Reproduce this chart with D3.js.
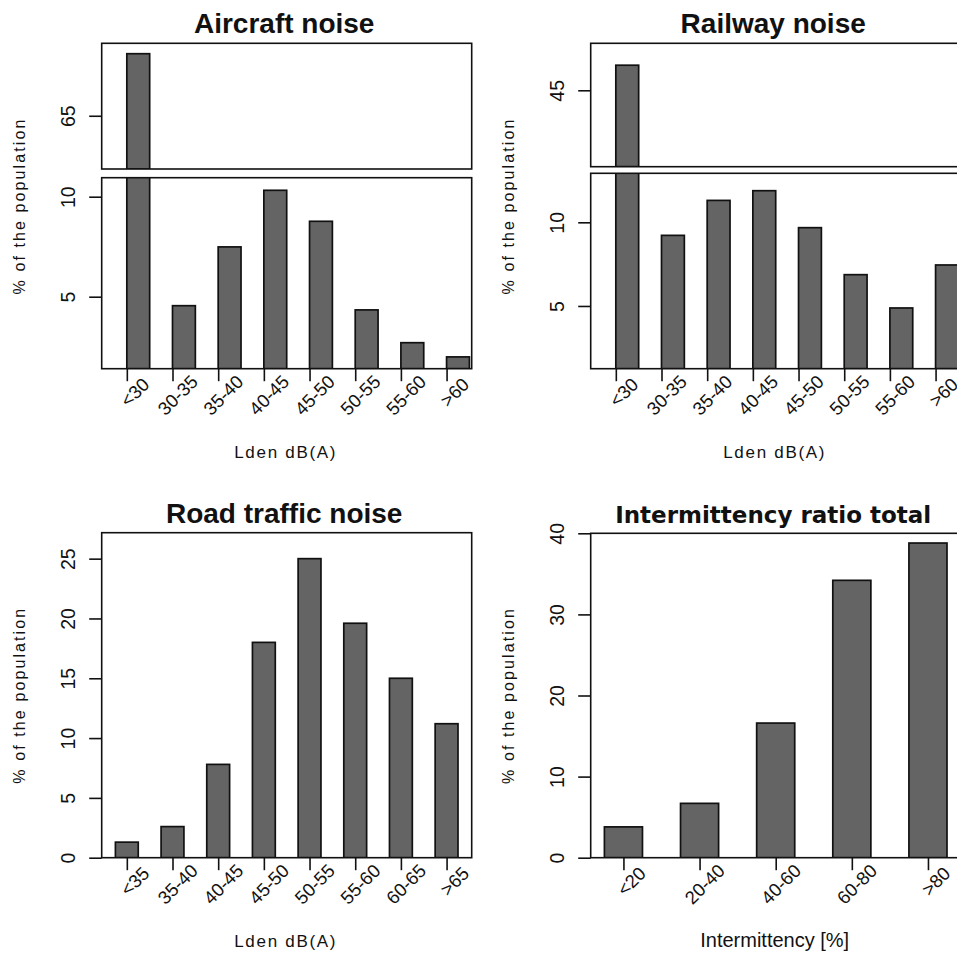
<!DOCTYPE html>
<meta charset="utf-8">
<script src="https://d3js.org/d3.v7.min.js"></script>
<style>
body { margin:0; background:#fff; }
svg { display:block; }
text { font-family:"Liberation Sans", Arial, sans-serif; fill:#111; }
.box { fill:none; stroke:#111; stroke-width:1.6; }
.bar { fill:#646464; stroke:#111; stroke-width:1.7; }
.tick line { stroke:#111; stroke-width:1.6; }
.ytick text { font-size:19.5px; }
.xtick text { font-size:18.5px; }
.title { font-size:28px; font-weight:bold; }
.title.alt { font-family:"DejaVu Sans", sans-serif; font-size:23px; }
.xlab { font-size:17px; letter-spacing:1.7px; }
.xlab.alt { font-size:20px; letter-spacing:0; }
.ylab { font-size:16px; letter-spacing:2.1px; }
</style>
<body></body>
<script>

// ---- data ----
var noiseBands = ["<30", "30-35", "35-40", "40-45", "45-50", "50-55", "55-60", ">60"];
var aircraftValues = [68.1, 4.55, 7.49, 10.32, 8.77, 4.34, 2.70, 1.99];
var railwayValues = [46.5, 9.22, 11.31, 11.89, 9.68, 6.87, 4.88, 7.45];

var roadBands = ["<35", "35-40", "40-45", "45-50", "50-55", "55-60", "60-65", ">65"];
var roadValues = [1.3, 2.6, 7.8, 18.0, 25.0, 19.6, 15.0, 11.2];

var intermBands = ["<20", "20-40", "40-60", "60-80", ">80"];
var intermValues = [3.8, 6.7, 16.6, 34.2, 38.8];

var aircraftTicksHigh = [65], aircraftTicksLow = [5, 10];
var railwayTicksHigh = [45], railwayTicksLow = [5, 10];
var roadTicks = [0, 5, 10, 15, 20, 25];
var intermTicks = [0, 10, 20, 30, 40];

// ---- layout ----
var width = 957, height = 956;
var boxW = 370;
var ylabel = "% of the population";

var svg = d3.select("body").append("svg")
    .attr("width", width)
    .attr("height", height);

var panels = [
  {title: "Aircraft noise", left: 101.7, titleY: 33.3, cats: noiseBands, vals: aircraftValues,
   xDomain: [0.4, 16.6], shift: 0.5, xlab: "Lden dB(A)",
   parts: [
     {top: 43.3, bottom: 169, domain: [62.34, 68.62], ticks: aircraftTicksHigh},
     {top: 177.7, bottom: 368.7, domain: [1.4, 10.95], ticks: aircraftTicksLow}
   ]},
  {title: "Railway noise", left: 590.7, titleY: 33.3, cats: noiseBands, vals: railwayValues,
   xDomain: [0.4, 16.6], shift: 0.5, xlab: "Lden dB(A)",
   parts: [
     {top: 43.3, bottom: 166.7, domain: [40.43, 47.81], ticks: railwayTicksHigh},
     {top: 173.3, bottom: 368.7, domain: [1.25, 12.93], ticks: railwayTicksLow}
   ]},
  {title: "Road traffic noise", left: 101.7, titleY: 522.7, cats: roadBands, vals: roadValues,
   xDomain: [0.4, 16.6], shift: 0, xlab: "Lden dB(A)",
   parts: [
     {top: 532.7, bottom: 857.7, domain: [0, 27.17], ticks: roadTicks}
   ]},
  {title: "Intermittency ratio total", left: 590.7, titleY: 522.7, cats: intermBands, vals: intermValues,
   xDomain: [0.64, 10.36], shift: 0, xlab: "Intermittency [%]", alt: true,
   parts: [
     {top: 533.3, bottom: 857.7, domain: [0, 40], ticks: intermTicks}
   ]}
];

var clipId = 0;

panels.forEach(function(p) {
  var g = svg.append("g");
  var x = d3.scaleLinear().domain(p.xDomain).range([p.left, p.left + boxW]);
  var tickPos = p.cats.map(function(d, i) { return 1.5 + 2 * i; });
  var cx = p.left + boxW / 2;
  var axisY = p.parts[p.parts.length - 1].bottom;

  p.parts.forEach(function(part) {
    var y = d3.scaleLinear().domain(part.domain).range([part.bottom, part.top]);
    var id = "clip" + (clipId++);

    g.append("clipPath").attr("id", id)
      .append("rect")
      .attr("x", p.left).attr("y", part.top)
      .attr("width", boxW).attr("height", part.bottom - part.top);

    g.append("g").attr("clip-path", "url(#" + id + ")")
      .selectAll("rect")
      .data(p.vals.map(function(v, i) { return {v: v, i: i}; })
        .filter(function(d) { return d.v > part.domain[0]; }))
      .enter().append("rect")
      .attr("class", "bar")
      .attr("x", function(d) { return x(1 + 2 * d.i + p.shift); })
      .attr("width", function(d) { return x(2 + 2 * d.i + p.shift) - x(1 + 2 * d.i + p.shift); })
      .attr("y", function(d) { return y(d.v); })
      .attr("height", function(d) { return y(part.domain[0]) - y(d.v); });

    g.append("rect").attr("class", "box")
      .attr("x", p.left).attr("y", part.top)
      .attr("width", boxW).attr("height", part.bottom - part.top);

    var gy = g.append("g")
      .attr("class", "ytick")
      .attr("transform", "translate(" + p.left + ",0)")
      .call(d3.axisLeft(y).tickValues(part.ticks).tickSize(12.5).tickFormat(d3.format("d")));
    gy.select(".domain").remove();
    gy.attr("font-size", null).attr("font-family", null);
    gy.selectAll(".tick text")
      .attr("x", null).attr("dy", null)
      .attr("text-anchor", "middle")
      .attr("transform", "translate(-27,0) rotate(-90)");
  });

  var gx = g.append("g")
    .attr("class", "xtick")
    .attr("transform", "translate(0," + axisY + ")")
    .call(d3.axisBottom(x).tickValues(tickPos).tickSize(12.5)
      .tickFormat(function(d, i) { return p.cats[i]; }));
  gx.select(".domain").remove();
  gx.attr("font-size", null).attr("font-family", null);
  gx.selectAll(".tick text")
    .attr("y", null).attr("dy", "0.35em")
    .attr("text-anchor", "middle")
    .attr("transform", "translate(13,18) rotate(-45)")
    .attr("x", function() { return -0.25 * this.getComputedTextLength(); });

  g.append("text")
    .attr("class", p.alt ? "title alt" : "title")
    .attr("x", cx - 2.5).attr("y", p.titleY)
    .attr("text-anchor", "middle")
    .text(p.title);

  g.append("text")
    .attr("class", p.alt ? "xlab alt" : "xlab")
    .attr("x", cx - 1).attr("y", axisY + 89)
    .attr("text-anchor", "middle")
    .text(p.xlab);

  var topY = p.parts[0].top;
  g.append("text")
    .attr("class", "ylab")
    .attr("text-anchor", "middle")
    .attr("transform", "translate(" + (p.left - 76.5) + "," + ((topY + axisY) / 2) + ") rotate(-90)")
    .text(ylabel);
});

</script>
